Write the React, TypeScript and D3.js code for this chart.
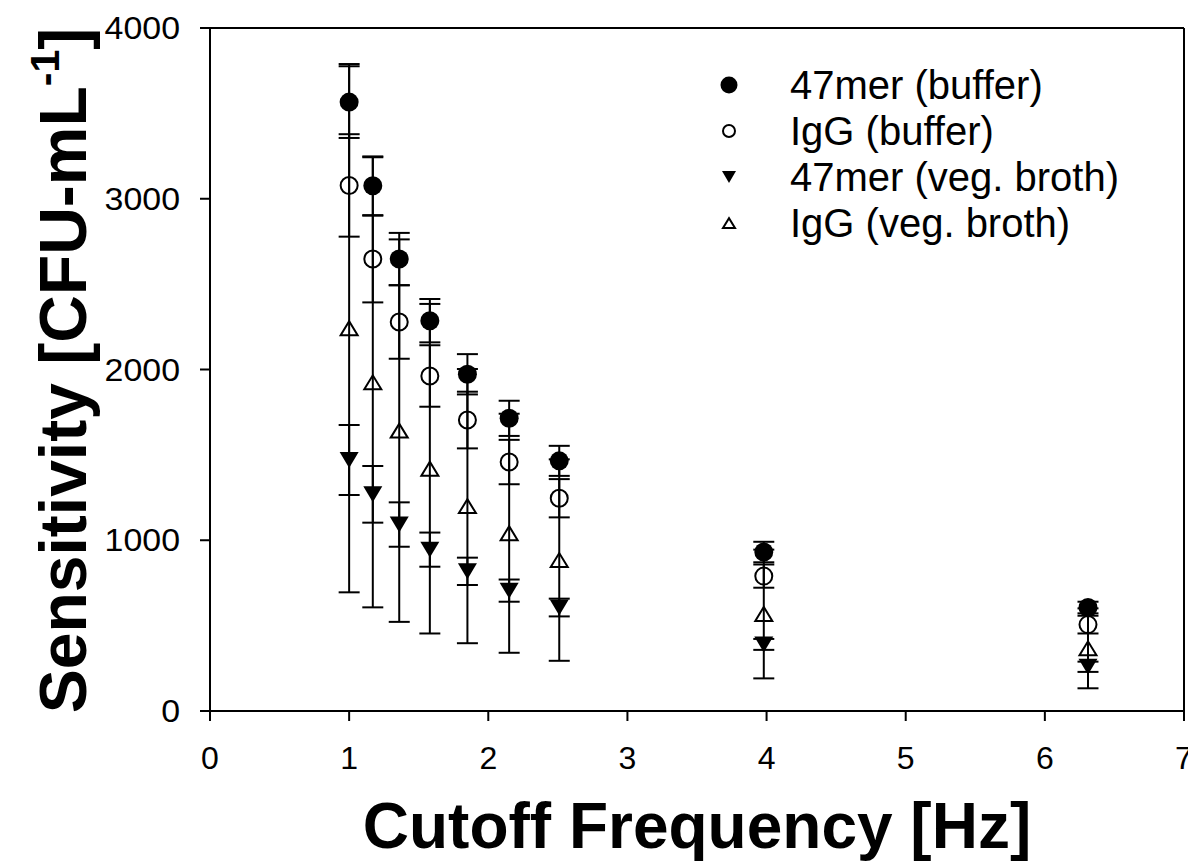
import React from "react";
import * as d3 from "d3";

const freqs = [1, 1.17, 1.36, 1.58, 1.85, 2.15, 2.51, 3.98, 6.31];

const mer47Buffer = [3566, 3076, 2647, 2286, 1972, 1714, 1465, 931, 606];
const mer47BufferErr = [210, 172, 153, 127, 118, 103, 88, 60, 34];

const iggBuffer = [3078, 2647, 2278, 1962, 1704, 1458, 1246, 790, 506];
const iggBufferErr = [300, 254, 215, 180, 166, 130, 112, 68, 52];

const mer47Broth = [1470, 1269, 1092, 945, 818, 705, 606, 390, 259];
const mer47BrothErr = [205, 166, 130, 100, 80, 65, 52, 32, 30];

const iggBroth = [2242, 1925, 1642, 1419, 1200, 1041, 884, 568, 367];
const iggBrothErr = [1547, 1318, 1120, 965, 803, 700, 590, 377, 234];

const xTicks = [0, 1, 2, 3, 4, 5, 6, 7];
const yTicks = [0, 1000, 2000, 3000, 4000];

const seriesNames = ["47mer (buffer)", "IgG (buffer)", "47mer (veg. broth)", "IgG (veg. broth)"];
const seriesSymbols = ["filledCircle", "openCircle", "filledDown", "openUp"];

const FONT = "'Liberation Sans', Arial, Helvetica, sans-serif";

function Marker({ kind, cx, cy, size }: { kind: string; cx: number; cy: number; size: number }) {
  const r = size / 2;
  if (kind === "filledCircle") return <circle cx={cx} cy={cy} r={r} fill="#000" />;
  if (kind === "openCircle")
    return <circle cx={cx} cy={cy} r={r - 1} fill="none" stroke="#000" strokeWidth={2} />;
  const h = size * 0.84;
  if (kind === "filledDown") {
    const p = `M${cx - r},${cy - h / 2} L${cx + r},${cy - h / 2} L${cx},${cy + h / 2} Z`;
    return <path d={p} fill="#000" />;
  }
  const p = `M${cx - r + 1},${cy + h / 2 - 1} L${cx + r - 1},${cy + h / 2 - 1} L${cx},${cy - h / 2 + 1} Z`;
  return <path d={p} fill="none" stroke="#000" strokeWidth={2} strokeLinejoin="miter" />;
}

export default function App() {
  const width = 1196;
  const height = 862;
  const x = d3.scaleLinear().domain([0, 7]).range([210, 1184]);
  const y = d3.scaleLinear().domain([0, 4000]).range([711, 28]);

  const series = [
    { vals: mer47Buffer, errs: mer47BufferErr },
    { vals: iggBuffer, errs: iggBufferErr },
    { vals: mer47Broth, errs: mer47BrothErr },
    { vals: iggBroth, errs: iggBrothErr },
  ];

  const capW = 10.5;
  const x0 = x(0), x1 = x(7), y0 = y(0), y1 = y(4000);

  return (
    <svg width={width} height={height} style={{ display: "block", marginTop: -8, marginLeft: -8 }}>
      <rect width={width} height={height} fill="#fff" />
      {/* frame */}
      <g stroke="#000" strokeWidth={2} fill="none">
        <line x1={x0} y1={y1} x2={x0} y2={y0} />
        <line x1={x0 - 10} y1={y0} x2={x1} y2={y0} />
        <line x1={x0 - 10} y1={y1} x2={x1} y2={y1} />
        <line x1={x1} y1={y1} x2={x1} y2={y0} />
        {xTicks.map((t) => (
          <line key={"xt" + t} x1={x(t)} y1={y0} x2={x(t)} y2={y0 + 10} />
        ))}
        {yTicks.map((t) => (
          <line key={"yt" + t} x1={x0 - 10} y1={y(t)} x2={x0} y2={y(t)} />
        ))}
      </g>
      {/* tick labels */}
      <g fontFamily={FONT} fontSize={32} fill="#000">
        {xTicks.map((t) => (
          <text key={"xl" + t} x={x(t)} y={769} textAnchor="middle">
            {t}
          </text>
        ))}
        {yTicks.map((t) => (
          <text
            key={"yl" + t}
            transform={`translate(180, ${y(t) + 11}) scale(1.06, 1)`}
            textAnchor="end"
          >
            {t}
          </text>
        ))}
      </g>
      {/* axis titles */}
      <text x={(x0 + x1) / 2} y={848} textAnchor="middle" fontFamily={FONT} fontWeight="bold" fontSize={64}>
        Cutoff Frequency [Hz]
      </text>
      <text
        transform={`translate(86, ${(y0 + y1) / 2 + 1}) rotate(-90)`}
        textAnchor="middle"
        fontFamily={FONT}
        fontWeight="bold"
        fontSize={66}
      >
        Sensitivity [CFU-mL
        <tspan dy={-27} fontSize={41}>-1</tspan>
        <tspan dy={27}>]</tspan>
      </text>
      {/* error bars */}
      <g stroke="#000" strokeWidth={2}>
        {series.map((s, si) =>
          s.vals.map((v, i) => {
            const cx = x(freqs[i]);
            const top = y(v + s.errs[i]);
            const bot = y(v - s.errs[i]);
            return (
              <g key={`e${si}-${i}`}>
                <line x1={cx} y1={top} x2={cx} y2={bot} />
                <line x1={cx - capW} y1={top} x2={cx + capW} y2={top} />
                <line x1={cx - capW} y1={bot} x2={cx + capW} y2={bot} />
              </g>
            );
          })
        )}
      </g>
      {/* symbols */}
      {[3, 2, 1, 0].map((si) =>
        series[si].vals.map((v, i) => (
          <Marker key={`m${si}-${i}`} kind={seriesSymbols[si]} cx={x(freqs[i])} cy={y(v)} size={19} />
        ))
      )}
      {/* legend */}
      {seriesNames.map((name, i) => {
        const ly = 85 + i * 46;
        const sizes = [17, 14, 14, 14];
        return (
          <g key={"lg" + i}>
            <Marker kind={seriesSymbols[i]} cx={729} cy={ly} size={sizes[i]} />
            <text x={790} y={ly + 14} fontFamily={FONT} fontSize={40} fill="#000">
              {name}
            </text>
          </g>
        );
      })}
    </svg>
  );
}
